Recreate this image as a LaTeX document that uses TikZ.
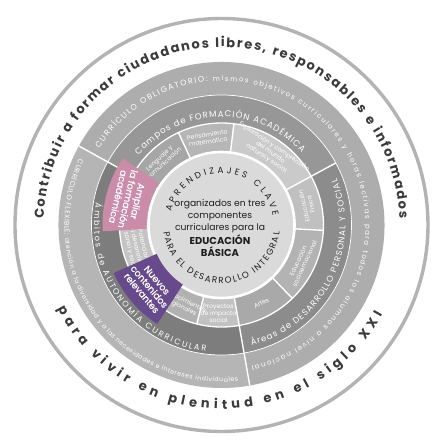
\documentclass[tikz,border=0pt]{standalone}
\usepackage{fontspec}
\setmainfont{Poppins}
\newfontfamily\boxfont[FakeBold=0.7]{Poppins}
\usetikzlibrary{decorations.text}
\definecolor{ringline}{HTML}{B3B3B3}
\definecolor{bigtxt}{HTML}{3A3A3A}
\definecolor{cOblig}{HTML}{ADADAD}
\definecolor{cFlex}{HTML}{B5B5B5}
\definecolor{cAcad}{HTML}{979797}
\definecolor{cDes}{HTML}{8C8C8C}
\definecolor{cAut}{HTML}{7D7D7D}
\definecolor{cLen}{HTML}{A6A6A6}
\definecolor{cPen}{HTML}{B6B6B6}
\definecolor{cExp}{HTML}{CACACA}
\definecolor{cFis}{HTML}{C0C0C0}
\definecolor{cSoc}{HTML}{B3B3B3}
\definecolor{cArt}{HTML}{A9A9A9}
\definecolor{cPro}{HTML}{C2C2C2}
\definecolor{cCon}{HTML}{B1B1B1}
\definecolor{cNue}{HTML}{BBBBBB}
\definecolor{cPot}{HTML}{C4C4C4}
\definecolor{cAmp}{HTML}{B0B0B0}
\definecolor{cDisk}{HTML}{DADADA}
\definecolor{cPink}{HTML}{CA8CA8}
\definecolor{cPurp}{HTML}{664A8C}
\definecolor{ctxt}{HTML}{1E1E1E}
\newcommand\annsec[5]{\fill[#1] (#2:#4pt) arc[start angle=#2,end angle=#3,radius=#4pt] -- (#3:#5pt) arc[start angle=#3,end angle=#2,radius=#5pt] -- cycle;}
\newcommand\arctxt[5]{\path[decorate,decoration={text along path,text align={fit to path},text color=#4,text={#5}}] (#2:#1pt) arc[start angle=#2,end angle=#3,radius=#1pt];}
\tikzset{
  sepline/.style={white,line width=1.4pt},
  subj/.style={text=white,align=center,font=\fontsize{6.2}{7}\selectfont,inner sep=0pt},
  boxt/.style={text=white,align=center,font=\boxfont\fontsize{9.3}{10}\selectfont,inner sep=0pt},
  ctr/.style={text=ctxt,align=center,inner sep=0pt}
}
\begin{document}
\begin{tikzpicture}[x=1pt,y=1pt]
\useasboundingbox[fill=white] (-221.5pt,-223pt) rectangle (223.5pt,225pt);
\draw[ringline,line width=3.4pt] (0,0) circle[radius=206.5pt];
% outer band
\annsec{cOblig}{-80}{151}{163}{130}
\annsec{cFlex}{151}{280}{163}{130}
% middle ring
\annsec{cAcad}{28.5}{151}{130}{102}
\annsec{cDes}{-80}{28.5}{130}{102}
\annsec{cAut}{151}{280}{130}{102}
% subject ring
\annsec{cLen}{115}{151}{102}{74}
\annsec{cPen}{83}{115}{102}{74}
\annsec{cExp}{28.5}{83}{102}{74}
\annsec{cFis}{-3}{28.5}{102}{74}
\annsec{cSoc}{-46}{-3}{102}{74}
\annsec{cArt}{-80}{-46}{102}{74}
\annsec{cPro}{256}{280}{102}{74}
\annsec{cCon}{233}{256}{102}{74}
\annsec{cNue}{206}{233}{102}{74}
\annsec{cPot}{181}{206}{102}{74}
\annsec{cAmp}{151}{181}{102}{74}
% ring borders
\draw[white,line width=0.7pt] (0,0) circle[radius=130pt];
\draw[white,line width=1.3pt] (0,0) circle[radius=102pt];
% separators
\foreach \a in {151,280} {\draw[sepline] (\a:74pt) -- (\a:163pt);}
\draw[sepline] (28.5:74pt) -- (28.5:130pt);
\foreach \a in {115,83,-3,-46,256,233,206,181} {\draw[sepline] (\a:74pt) -- (\a:102pt);}
% central disk
\fill[cDisk,draw=white,line width=2.6pt] (0,0) circle[radius=73pt];
% subject labels
\node[subj,rotate=43] (len) at (133:88pt) {Lenguaje y\\comunicación};
\node[subj,rotate=9] (pen) at (99:88pt) {Pensamiento\\matemático};
\node[subj,rotate=-34] (exp) at (56:87.5pt) {Exploración y comprensión\\del mundo\\natural y social};
\node[subj,rotate=103] (fis) at (13:88pt) {Educación\\Física};
\node[subj,rotate=65] (soc) at (-25:88pt) {Educación\\socioemocional};
\node[subj,rotate=27] (art) at (-63:88pt) {Artes};
\node[subj] (pro) at (-92:88pt) {Proyectos\\de impacto\\social};
\node[subj,rotate=-26] (con) at (244:88pt) {Conocimientos\\regionales};
\node[subj,rotate=-77] (pot) at (193.5:88pt) {Potenciar\\el desarrollo\\personal y social};
% highlighted boxes over partially hidden labels
\annsec{cPink}{146}{183}{119}{75}
\annsec{cPurp}{204}{237}{118}{71}
\node[boxt,rotate=-103] (amp) at (164.5:97pt) {Ampliar\\la formación\\académica};
\node[boxt,rotate=-50] (nue) at (220.5:95pt) {Nuevos\\contenidos\\relevantes};
% centre text
\node[ctr] (ctext) at (-1.5pt,-3pt) {\fontsize{9.2}{12.5}\selectfont organizados en tres\\ \fontsize{9.2}{12.5}\selectfont componentes\\ \fontsize{9.2}{12.5}\selectfont curriculares para la\\ \bfseries\fontsize{10}{12.5}\selectfont EDUCACIÓN\\ \bfseries\fontsize{10}{12.5}\selectfont BÁSICA};
\arctxt{52}{165}{10}{ctxt}{|\fontsize{8.8}{9}\selectfont|APRENDIZAJES CLAVE}
\arctxt{58.5}{187}{353}{ctxt}{|\fontsize{8.8}{9}\selectfont|PARA EL DESARROLLO INTEGRAL}
% middle ring texts
\arctxt{108}{140}{42}{white}{|\fontsize{8.6}{9}\selectfont|Campos de FORMACIÓN ACADÉMICA}
\arctxt{124}{-76}{22}{white}{|\fontsize{8.6}{9}\selectfont|Áreas de DESARROLLO PERSONAL Y SOCIAL}
\arctxt{127.5}{170}{263}{white}{|\fontsize{8.2}{9}\selectfont|Ámbitos de AUTONOMÍA CURRICULAR}
% outer band texts
\arctxt{144}{148}{-78}{white}{|\fontsize{8}{8}\selectfont|CURRÍCULO OBLIGATORIO: |\fontsize{7}{8}\selectfont|mismos objetivos curriculares y horas lectivas para todos los alumnos a nivel nacional}
\arctxt{157}{155}{276}{white}{|\fontsize{7}{8}\selectfont|CURRÍCULO FLEXIBLE: |\fontsize{6.3}{8}\selectfont|atención a la diversidad y a las necesidades e intereses individuales}
% big outer texts
\arctxt{178}{178}{2}{bigtxt}{|\bfseries\fontsize{13}{14}\selectfont|Contribuir a formar ciudadanos libres, responsables e informados}
\arctxt{184}{207}{331}{bigtxt}{|\bfseries\fontsize{13}{14}\selectfont|para vivir en plenitud en el siglo XXI}
\end{tikzpicture}
\end{document}
